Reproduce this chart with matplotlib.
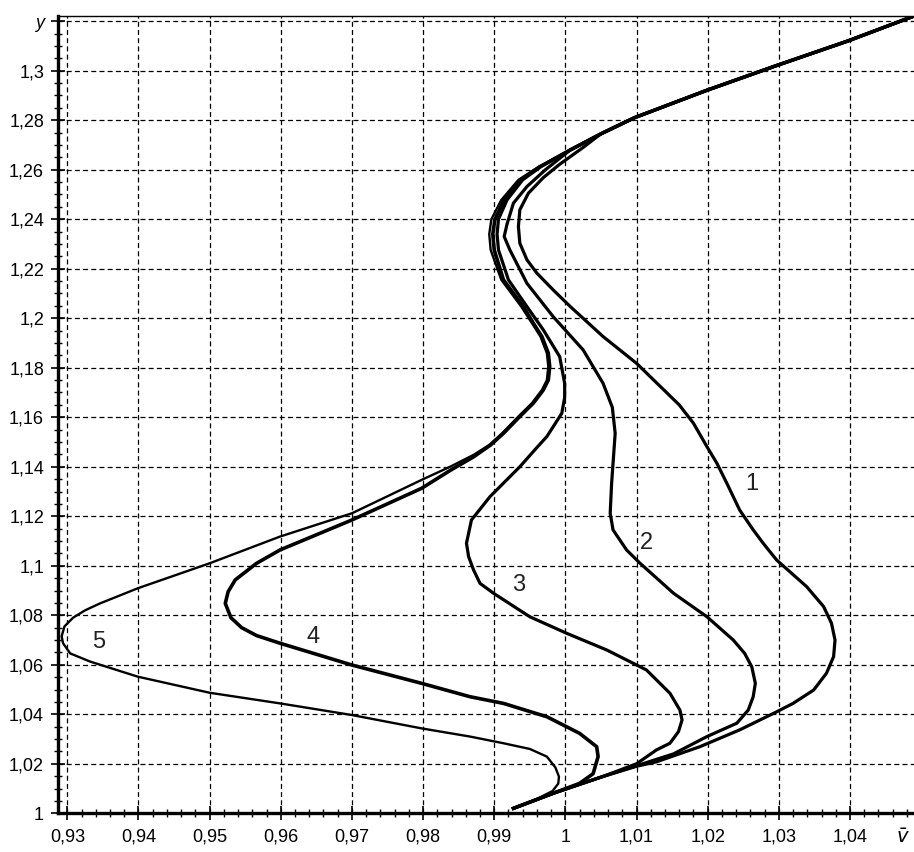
import numpy as np
import matplotlib
matplotlib.use("Agg")
import matplotlib.pyplot as plt
from matplotlib.ticker import FixedLocator, MultipleLocator

plt.rcParams['font.family'] = ['Liberation Sans', 'DejaVu Sans']
plt.rcParams['lines.scale_dashes'] = False

### Data (v, y pairs along each curve).

# shared top branch
top_v = [1.0007, 1.0050, 1.0097, 1.0198, 1.0296, 1.0397, 1.0492]
top_y = [1.2680, 1.2745, 1.2810, 1.2920, 1.3020, 1.3120, 1.3223]

curve1_v = [0.9927, 0.9983, 1.0052, 1.0100, 1.0128, 1.0189, 1.0245, 1.0297,
            1.0320, 1.0349, 1.0367, 1.0377, 1.0379, 1.0374, 1.0363, 1.0339,
            1.0297, 1.0278, 1.0264, 1.0245, 1.0236, 1.0227, 1.0213, 1.0199,
            1.0180, 1.0160, 1.0100, 1.0053, 1.0007, 0.9983, 0.9960, 0.9946,
            0.9936, 0.9934, 0.9936, 0.9948, 0.9969, 0.9992, 1.0025] + top_v[1:]
curve1_y = [1.0020, 1.0081, 1.0148, 1.0190, 1.0208, 1.0269, 1.0337, 1.0410,
            1.0444, 1.0498, 1.0566, 1.0633, 1.0700, 1.0768, 1.0835, 1.0916,
            1.1023, 1.1091, 1.1145, 1.1225, 1.1279, 1.1333, 1.1414, 1.1481,
            1.1576, 1.1650, 1.1818, 1.1926, 1.2047, 1.2114, 1.2182, 1.2236,
            1.2303, 1.2370, 1.2438, 1.2505, 1.2568, 1.2622, 1.2690] + top_y[1:]

curve2_v = [0.9927, 0.9983, 1.0052, 1.0100, 1.0152, 1.0199, 1.0241, 1.0257,
            1.0264, 1.0267, 1.0262, 1.0252, 1.0236, 1.0199, 1.0152, 1.0105,
            1.0086, 1.0067, 1.0063, 1.0065, 1.0070, 1.0066, 1.0053, 1.0025,
            0.9983, 0.9946, 0.9922, 0.9914, 0.9918, 0.9927, 0.9946,
            0.9972] + top_v
curve2_y = [1.0020, 1.0081, 1.0148, 1.0192, 1.0240, 1.0310, 1.0364, 1.0417,
            1.0471, 1.0525, 1.0592, 1.0646, 1.0700, 1.0794, 1.0889, 1.1010,
            1.1064, 1.1145, 1.1212, 1.1333, 1.1535, 1.1640, 1.1737, 1.1872,
            1.2006, 1.2141, 1.2276, 1.2330, 1.2380, 1.2465, 1.2532,
            1.2600] + top_y

curve3_v = [0.9927, 0.9983, 1.0052, 1.0100, 1.0128, 1.0147, 1.0159, 1.0164,
            1.0161, 1.0147, 1.0114, 1.0058, 1.0002, 0.9950, 0.9899, 0.9880,
            0.9871, 0.9864, 0.9861, 0.9868, 0.9894, 0.9936, 0.9961, 0.9974,
            0.9995, 0.9999, 0.9999, 0.9992, 0.9969, 0.9946, 0.9920, 0.9906,
            0.9904, 0.9906, 0.9918, 0.9940, 0.9966] + top_v
curve3_y = [1.0020, 1.0081, 1.0148, 1.0200, 1.0256, 1.0283, 1.0330, 1.0377,
            1.0417, 1.0485, 1.0579, 1.0660, 1.0727, 1.0794, 1.0889, 1.0929,
            1.0983, 1.1037, 1.1091, 1.1185, 1.1279, 1.1400, 1.1481, 1.1522,
            1.1616, 1.1680, 1.1737, 1.1845, 1.1953, 1.2047, 1.2155, 1.2276,
            1.2340, 1.2400, 1.2478, 1.2559, 1.2613] + top_y

curve4_v = [0.9927, 0.9983, 1.0020, 1.0039, 1.0046, 1.0044, 1.0020, 0.9974,
            0.9913, 0.9866, 0.9798, 0.9700, 0.9599, 0.9566, 0.9545, 0.9530,
            0.9522, 0.9526, 0.9536, 0.9566, 0.9599, 0.9700, 0.9798, 0.9838,
            0.9871, 0.9895, 0.9913, 0.9936, 0.9955, 0.9969, 0.9976, 0.9978,
            0.9976, 0.9967, 0.9955, 0.9941, 0.9913, 0.9900, 0.9898, 0.9901,
            0.9914, 0.9937, 0.9965] + top_v
curve4_y = [1.0020, 1.0081, 1.0121, 1.0160, 1.0229, 1.0269, 1.0323, 1.0390,
            1.0444, 1.0471, 1.0525, 1.0599, 1.0687, 1.0718, 1.0750, 1.0790,
            1.0848, 1.0895, 1.0943, 1.1010, 1.1064, 1.1185, 1.1313, 1.1385,
            1.1440, 1.1488, 1.1535, 1.1603, 1.1657, 1.1710, 1.1750, 1.1805,
            1.1859, 1.1926, 1.1980, 1.2047, 1.2155, 1.2276, 1.2340, 1.2400,
            1.2478, 1.2559, 1.2613] + top_y

curve5_v = [0.9927, 0.9960, 0.9982, 0.9990, 0.9991, 0.9986, 0.9974, 0.9950,
            0.9913, 0.9866, 0.9798, 0.9700, 0.9599, 0.9500, 0.9399, 0.9332,
            0.9304, 0.9294, 0.9292, 0.9296, 0.9308, 0.9325, 0.9346, 0.9399,
            0.9500, 0.9599, 0.9700, 0.9798, 0.9838, 0.9871, 0.9893, 0.9911,
            0.9934, 0.9953, 0.9967, 0.9974, 0.9976, 0.9974, 0.9965, 0.9953,
            0.9938, 0.9910, 0.9895, 0.9893, 0.9896, 0.9910, 0.9934,
            0.9963] + top_v
curve5_y = [1.0020, 1.0058, 1.0090, 1.0120, 1.0148, 1.0185, 1.0229, 1.0260,
            1.0283, 1.0310, 1.0343, 1.0397, 1.0444, 1.0487, 1.0552, 1.0613,
            1.0646, 1.0687, 1.0715, 1.0755, 1.0790, 1.0820, 1.0848, 1.0909,
            1.1010, 1.1118, 1.1212, 1.1347, 1.1400, 1.1448, 1.1488, 1.1535,
            1.1603, 1.1657, 1.1710, 1.1750, 1.1805, 1.1859, 1.1926, 1.1980,
            1.2047, 1.2155, 1.2276, 1.2340, 1.2400, 1.2478, 1.2559,
            1.2613] + top_y

curve_labels = ['1', '2', '3', '4', '5']
label_v = [1.0262, 1.0114, 0.9934, 0.9646, 0.9344]
label_y = [1.1331, 1.1091, 1.0922, 1.0714, 1.0693]

xticks = [0.93, 0.94, 0.95, 0.96, 0.97, 0.98, 0.99, 1.00, 1.01, 1.02, 1.03, 1.04]
xticklabels = ['0,93', '0,94', '0,95', '0,96', '0,97', '0,98', '0,99',
               '1', '1,01', '1,02', '1,03', '1,04']
yticks = [1.00, 1.02, 1.04, 1.06, 1.08, 1.10, 1.12, 1.14, 1.16, 1.18,
          1.20, 1.22, 1.24, 1.26, 1.28, 1.30, 1.32]
yticklabels = ['1', '1,02', '1,04', '1,06', '1,08', '1,1', '1,12', '1,14',
               '1,16', '1,18', '1,2', '1,22', '1,24', '1,26', '1,28', '1,3', 'y']

### Figure.

W, H = 914, 852
fig = plt.figure(figsize=(W / 100, H / 100), dpi=100)
ax = fig.add_axes([58 / W, (H - 813.3) / H, (W - 58) / W, (813.3 - 16) / H])

ax.set_xlim(0.92869, 1.0490)
ax.set_ylim(1.0, 1.3221)

curves = [(curve1_v, curve1_y, 2.3), (curve2_v, curve2_y, 2.3),
          (curve3_v, curve3_y, 2.3), (curve4_v, curve4_y, 2.6),
          (curve5_v, curve5_y, 1.7)]
for v, y, lw in curves:
    ax.plot(v, y, color='black', lw=lw, solid_joinstyle='round', zorder=3)

for lab, v, y in zip(curve_labels, label_v, label_y):
    ax.text(v, y, lab, fontsize=17, ha='center', va='center', color='#222222')

ax.xaxis.set_major_locator(FixedLocator(xticks))
ax.set_xticklabels(xticklabels)
ax.yaxis.set_major_locator(FixedLocator(yticks))
ax.set_yticklabels(yticklabels)
ax.xaxis.set_minor_locator(MultipleLocator(0.002))
ax.yaxis.set_minor_locator(MultipleLocator(0.005))
ax.get_yticklabels()[-1].set_fontstyle('italic')
ax.get_yticklabels()[-1].set_fontsize(15)

ax.tick_params(axis='both', which='major', direction='inout', length=10,
               width=1.2, labelsize=13, color='black')
ax.tick_params(axis='both', which='minor', direction='inout', length=6,
               width=1.0, color='black')
ax.tick_params(axis='x', which='major', pad=6)
ax.tick_params(axis='y', which='major', pad=5)

ax.grid(True, which='major', color='black', linestyle=(0, (3.6, 2.3)), lw=0.9)
ax.set_axisbelow(True)

ax.spines['left'].set_linewidth(2.4)
ax.spines['bottom'].set_linewidth(2.4)
ax.spines['top'].set_linewidth(1.0)
ax.spines['right'].set_visible(False)

fig.text(896 / W, 1 - 838 / H, r'$\bar{v}$', fontsize=14, ha='left', va='center')

fig.savefig('out.png', dpi=100)
